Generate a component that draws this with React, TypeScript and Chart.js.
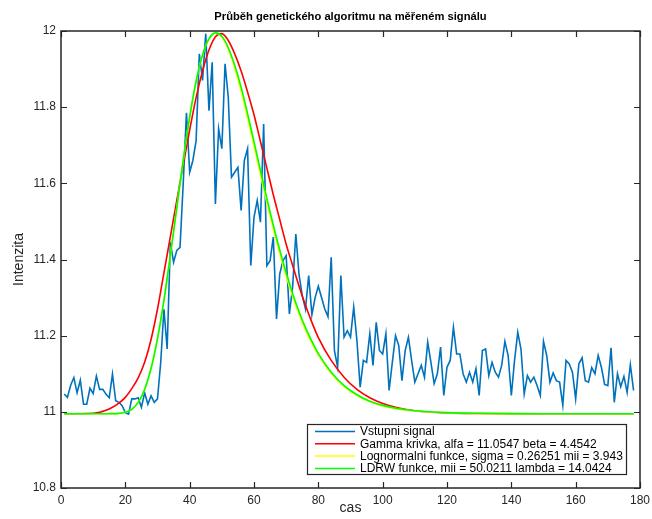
import React, { useEffect, useRef } from 'react';
import { Chart, registerables } from 'chart.js';

Chart.register(...registerables);

// ---- data ----
const signalStart = 1;
const signalValues = [
  11.047, 11.038, 11.07, 11.09, 11.05, 11.083, 11.02, 11.02, 11.062, 11.048,
  11.094, 11.059, 11.059, 11.046, 11.037, 11.099, 11.029, 11.025, 11.016, 10.998,
  10.994, 11.034, 11.034, 11.037, 11.012, 11.05, 11.02, 11.042, 11.025, 11.034,
  11.13, 11.27, 11.165, 11.445, 11.393, 11.424, 11.432, 11.6, 11.785, 11.629,
  11.66, 11.712, 11.94, 11.87, 11.993, 11.791, 11.918, 11.546, 11.743, 11.691,
  11.914, 11.826, 11.616, 11.629, 11.642, 11.529, 11.66, 11.691, 11.384, 11.511,
  11.555, 11.498, 11.756, 11.384, 11.397, 11.459, 11.244, 11.362, 11.397, 11.41,
  11.257, 11.327, 11.467, 11.36, 11.305, 11.27, 11.358, 11.255, 11.3, 11.33,
  11.3, 11.27, 11.25, 11.406, 11.161, 11.117, 11.358, 11.196, 11.213, 11.196,
  11.275, 11.187, 11.065, 11.135, 11.13, 11.205, 11.122, 11.235, 11.161, 11.152,
  11.205, 11.056, 11.13, 11.2, 11.174, 11.082, 11.161, 11.196, 11.135, 11.078,
  11.1, 11.122, 11.091, 11.183, 11.13, 11.074, 11.1, 11.17, 11.043, 11.117,
  11.135, 11.222, 11.152, 11.152, 11.1, 11.078, 11.104, 11.078, 11.113, 11.043,
  11.161, 11.165, 11.095, 11.13, 11.104, 11.091, 11.122, 11.185, 11.148, 11.043,
  11.135, 11.209, 11.165, 11.047, 11.095, 11.078, 11.091, 11.069, 11.043, 11.185,
  11.148, 11.078, 11.102, 11.082, 11.078, 11.017, 11.135, 11.126, 11.104, 11.034,
  11.126, 11.142, 11.082, 11.078, 11.116, 11.1, 11.148, 11.117, 11.072, 11.069,
  11.168, 11.025, 11.1, 11.066, 11.093, 11.051, 11.124, 11.056,
];

const curveX = [
  1, 8, 12, 14, 16, 18, 20, 22, 24, 26, 28, 30, 32, 34, 36, 38, 40, 42, 44, 46,
  48, 50, 52, 54, 56, 58, 60, 62, 64, 66, 68, 70, 72, 74, 76, 78, 80, 84, 88, 92,
  96, 100, 105, 110, 120, 130, 140, 150, 178,
];
const gammaValues = [
  10.995, 10.9955, 10.999, 11.004, 11.012, 11.023, 11.038, 11.061, 11.089, 11.13,
  11.19, 11.27, 11.365, 11.46, 11.555, 11.65, 11.74, 11.825, 11.895, 11.95,
  11.985, 11.993, 11.975, 11.94, 11.895, 11.84, 11.78, 11.71, 11.64, 11.57,
  11.505, 11.44, 11.385, 11.33, 11.28, 11.235, 11.195, 11.135, 11.091, 11.059,
  11.037, 11.022, 11.01, 11.003, 10.997, 10.9955, 10.995, 10.995, 10.995,
];
const lognormalValues = [
  10.995, 10.995, 10.995, 10.995, 10.9952, 10.9959, 10.9987, 11.0067, 11.0247, 11.0587,
  11.1138, 11.1922, 11.2928, 11.4107, 11.5364, 11.661, 11.774, 11.868, 11.9373, 11.9793,
  11.995, 11.9838, 11.952, 11.903, 11.8414, 11.7717, 11.6978, 11.623, 11.5498, 11.4801,
  11.4155, 11.3564, 11.3033, 11.2562, 11.2151, 11.1794, 11.1487, 11.1005, 11.0663, 11.0426,
  11.0265, 11.0157, 11.0071, 11.002, 10.9974, 10.9958, 10.9952, 10.995, 10.995,
];
const ldrwValues = [
  10.995, 10.995, 10.995, 10.995, 10.9952, 10.9959, 10.9987, 11.0067, 11.0247, 11.0587,
  11.1138, 11.1922, 11.2928, 11.4107, 11.5364, 11.661, 11.774, 11.868, 11.9373, 11.9793,
  11.995, 11.986, 11.956, 11.91, 11.852, 11.783, 11.709, 11.634, 11.56, 11.49,
  11.425, 11.365, 11.311, 11.263, 11.221, 11.185, 11.153, 11.104, 11.069, 11.045,
  11.028, 11.017, 11.008, 11.003, 10.998, 10.9962, 10.9953, 10.995, 10.995,
];

const xTicks = [0, 20, 40, 60, 80, 100, 120, 140, 160, 180];
const xTickLabels = ['0', '20', '40', '60', '80', '100', '120', '140', '160', '180'];
const yTicks = [10.8, 11, 11.2, 11.4, 11.6, 11.8, 12];
const yTickLabels = ['10.8', '11', '11.2', '11.4', '11.6', '11.8', '12'];

const titleText = 'Průběh genetického algoritmu na měřeném signálu';
const xLabel = 'cas';
const yLabel = 'Intenzita';
const legendLabels = [
  'Vstupni signal',
  'Gamma krivka, alfa = 11.0547 beta = 4.4542',
  'Lognormalni funkce, sigma = 0.26251 mii = 3.943',
  'LDRW funkce, mii = 50.0211 lambda = 14.0424',
];
const seriesColors = ['#0072BD', '#FF0000', '#FFFF00', '#00FF00'];

const FONT = '"Liberation Sans", Arial, Helvetica, sans-serif';
const AXIS_COLOR = '#262626';

const decorPlugin = {
  id: 'decor',
  afterDraw(chart: any) {
    const ctx = chart.ctx as CanvasRenderingContext2D;
    const { left, right, top, bottom } = chart.chartArea;
    const xs = chart.scales.x;
    const ys = chart.scales.y;
    ctx.save();

    // axes box
    ctx.strokeStyle = AXIS_COLOR;
    ctx.lineWidth = 1.5;
    ctx.strokeRect(left, top, right - left, bottom - top);

    // inward ticks
    const tl = 6;
    ctx.lineWidth = 1.2;
    ctx.beginPath();
    xTicks.forEach((v) => {
      const px = Math.round(xs.getPixelForValue(v)) + 0.5;
      ctx.moveTo(px, bottom);
      ctx.lineTo(px, bottom - tl);
      ctx.moveTo(px, top);
      ctx.lineTo(px, top + tl);
    });
    yTicks.forEach((v) => {
      const py = Math.round(ys.getPixelForValue(v)) + 0.5;
      ctx.moveTo(left, py);
      ctx.lineTo(left + tl, py);
      ctx.moveTo(right, py);
      ctx.lineTo(right - tl, py);
    });
    ctx.stroke();

    // title
    ctx.fillStyle = '#000';
    ctx.font = `bold 11.2px ${FONT}`;
    ctx.textAlign = 'center';
    ctx.textBaseline = 'middle';
    ctx.fillText(titleText, (left + right) / 2, 17);

    // axis labels
    ctx.fillStyle = AXIS_COLOR;
    ctx.font = `14px ${FONT}`;
    ctx.fillText(xLabel, (left + right) / 2, 508);
    ctx.save();
    ctx.translate(19, (top + bottom) / 2);
    ctx.rotate(-Math.PI / 2);
    ctx.fillText(yLabel, 0, 0);
    ctx.restore();

    // legend
    const bw = 319;
    const bh = 50;
    const bx = right - 14 - bw;
    const by = bottom - 14 - bh;
    ctx.fillStyle = '#fff';
    ctx.fillRect(bx, by, bw, bh);
    ctx.strokeStyle = AXIS_COLOR;
    ctx.lineWidth = 1.2;
    ctx.strokeRect(bx + 0.5, by + 0.5, bw, bh);
    ctx.font = `12px ${FONT}`;
    ctx.textAlign = 'left';
    ctx.textBaseline = 'middle';
    legendLabels.forEach((lab, i) => {
      const ry = by + 7.5 + i * 12.3;
      ctx.strokeStyle = seriesColors[i];
      ctx.lineWidth = 1.5;
      ctx.beginPath();
      ctx.moveTo(bx + 8, ry);
      ctx.lineTo(bx + 48, ry);
      ctx.stroke();
      ctx.fillStyle = '#000';
      ctx.fillText(lab, bx + 53, ry + 0.5);
    });

    ctx.restore();
  },
};

export default function App() {
  const canvasRef = useRef<HTMLCanvasElement | null>(null);

  useEffect(() => {
    const canvas = canvasRef.current;
    if (!canvas) return;
    const signalData = signalValues.map((v, i) => ({ x: signalStart + i, y: v }));
    const curve = (vals: number[]) => curveX.map((x, i) => ({ x, y: vals[i] }));

    const chart = new Chart(canvas, {
      type: 'line',
      data: {
        datasets: [
          {
            label: legendLabels[0],
            data: signalData,
            borderColor: seriesColors[0],
            borderWidth: 1.6,
            pointRadius: 0,
            tension: 0,
            order: 3,
          },
          {
            label: legendLabels[1],
            data: curve(gammaValues),
            borderColor: seriesColors[1],
            borderWidth: 1.6,
            pointRadius: 0,
            cubicInterpolationMode: 'monotone',
            order: 2,
          },
          {
            label: legendLabels[2],
            data: curve(lognormalValues),
            borderColor: seriesColors[2],
            borderWidth: 1.6,
            pointRadius: 0,
            cubicInterpolationMode: 'monotone',
            order: 1,
          },
          {
            label: legendLabels[3],
            data: curve(ldrwValues),
            borderColor: seriesColors[3],
            borderWidth: 1.6,
            pointRadius: 0,
            cubicInterpolationMode: 'monotone',
            order: 0,
          },
        ],
      },
      options: {
        animation: false,
        responsive: false,
        devicePixelRatio: 1,
        layout: { padding: { top: 31, right: 12, left: 0, bottom: 0 } },
        plugins: {
          legend: { display: false },
          tooltip: { enabled: false },
          title: { display: false },
        },
        scales: {
          x: {
            type: 'linear',
            min: 0,
            max: 180,
            grid: { display: false, drawTicks: false },
            border: { display: false },
            afterBuildTicks: (scale: any) => {
              scale.ticks = xTicks.map((v) => ({ value: v }));
            },
            afterFit: (scale: any) => {
              scale.height = 31;
              scale.paddingLeft = 0;
              scale.paddingRight = 0;
            },
            ticks: {
              padding: 5,
              color: AXIS_COLOR,
              font: { family: FONT, size: 12 },
              maxRotation: 0,
              autoSkip: false,
              callback: (_v: any, i: number) => xTickLabels[i],
            },
          },
          y: {
            type: 'linear',
            min: 10.8,
            max: 12,
            grid: { display: false, drawTicks: false },
            border: { display: false },
            afterBuildTicks: (scale: any) => {
              scale.ticks = yTicks.map((v) => ({ value: v }));
            },
            afterFit: (scale: any) => {
              scale.width = 61;
              scale.paddingTop = 0;
              scale.paddingBottom = 0;
            },
            ticks: {
              padding: 5,
              color: AXIS_COLOR,
              font: { family: FONT, size: 12 },
              autoSkip: false,
              callback: (_v: any, i: number) => yTickLabels[i],
            },
          },
        },
      },
      plugins: [decorPlugin],
    } as any);

    return () => chart.destroy();
  }, []);

  return (
    <div style={{ position: 'fixed', left: 0, top: 0, width: 652, height: 519, background: '#fff' }}>
      <canvas ref={canvasRef} width={652} height={519} style={{ display: 'block' }} />
    </div>
  );
}
